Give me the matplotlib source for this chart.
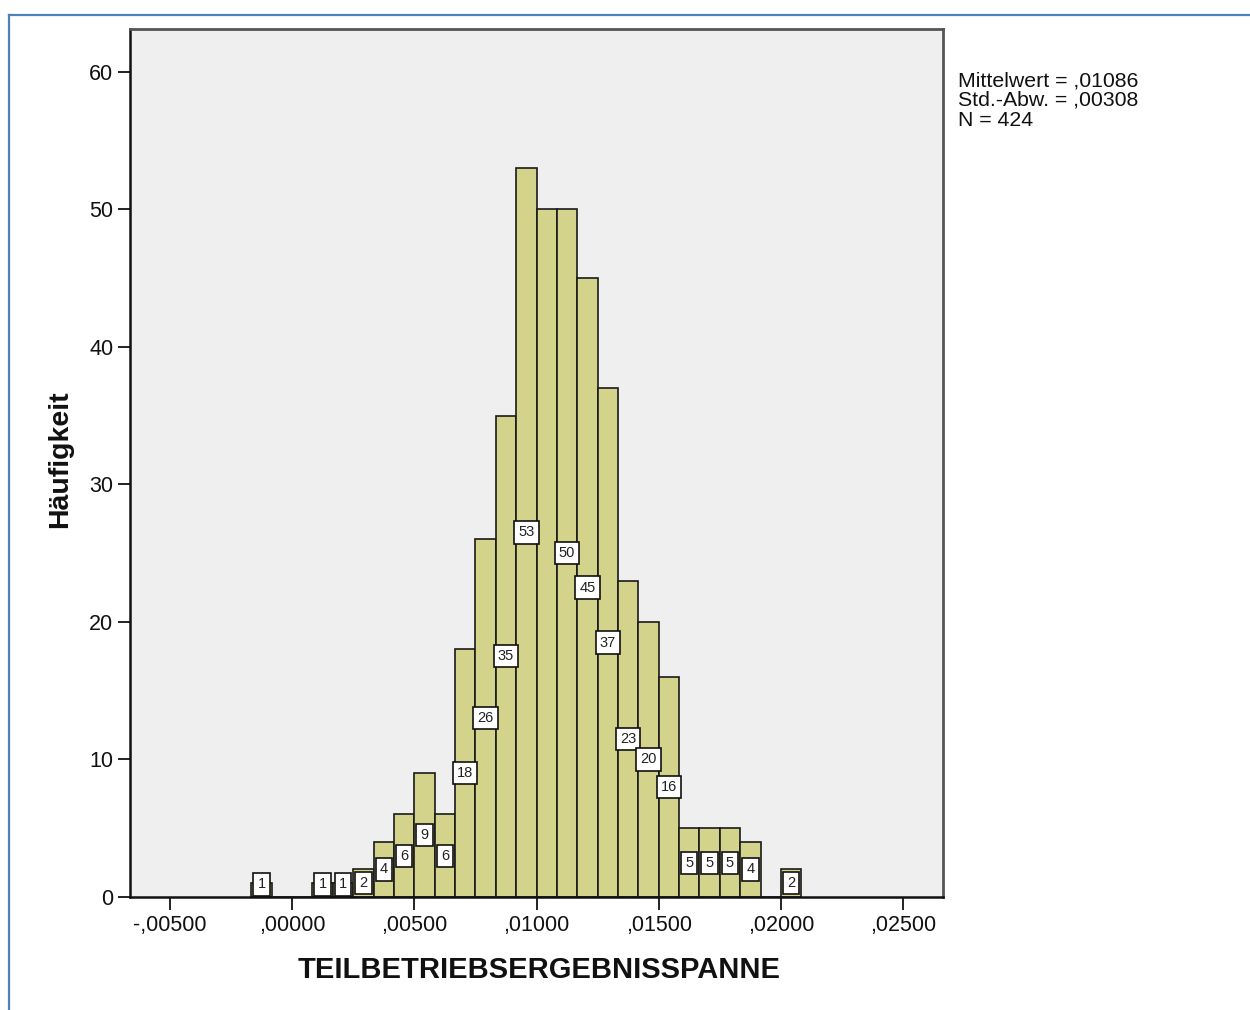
import matplotlib
matplotlib.use("Agg")
import matplotlib.pyplot as plt
from matplotlib.lines import Line2D

plt.rcParams['font.family'] = ['Liberation Sans', 'DejaVu Sans']

# ---- data ----
counts = [1, 0, 0, 1, 1, 2, 4, 6, 9, 6, 18, 26, 35, 53, 50, 50, 45, 37, 23, 20, 16, 5, 5, 5, 4, 0, 2]
bin_width = 0.015 / 18
first_edge = 0.005 - 8 * bin_width
hidden_label_bins = [14]   # label suppressed in the original (overlap)
x_ticks = [-0.005, 0.0, 0.005, 0.010, 0.015, 0.020, 0.025]
x_tick_labels = ["-,00500", ",00000", ",00500", ",01000", ",01500", ",02000", ",02500"]
y_ticks = [0, 10, 20, 30, 40, 50, 60]
stats_lines = ["Mittelwert = ,01086", "Std.-Abw. = ,00308", "N = 424"]
x_title = "TEILBETRIEBSERGEBNISSPANNE"
y_title = "Häufigkeit"

W, H = 1250, 1010
fig = plt.figure(figsize=(W / 100, H / 100), dpi=100)
fig.patch.set_facecolor('white')

# axes placement in pixels
L, R, T, B = 130, 943, 28.5, 897
ax = fig.add_axes([L / W, 1 - B / H, (R - L) / W, (B - T) / H])
ax.set_facecolor('#efefef')

lefts = [first_edge + i * bin_width for i in range(len(counts))]
ax.bar(lefts, counts, width=bin_width, align='edge', color='#d4d38b',
       edgecolor='#1a1a1a', linewidth=1.2, zorder=2)

px_per_unit = 13.755
ax.set_xlim(-0.00663, 0.02663)
ax.set_ylim(0, (B - T) / px_per_unit)

# value labels
half_box = 12.5 / px_per_unit
for i, (x0, c) in enumerate(zip(lefts, counts)):
    if c <= 0 or i in hidden_label_bins:
        continue
    yc = max(c / 2, half_box)
    ax.text(x0 + bin_width / 2, yc, str(c), ha='center', va='center', fontsize=10.5,
            color='#222222', zorder=4,
            bbox=dict(boxstyle='square,pad=0.28', facecolor='white',
                      edgecolor='#111111', linewidth=1.2))

ax.set_xticks(x_ticks)
ax.set_xticklabels(x_tick_labels)
ax.set_yticks(y_ticks)
ax.tick_params(axis='both', direction='out', length=9, width=1.3, labelsize=15.5,
               colors='#111111')
ax.tick_params(axis='x', pad=4)
ax.tick_params(axis='y', pad=3)

for s in ['left', 'bottom']:
    ax.spines[s].set_color('#111111')
    ax.spines[s].set_linewidth(1.8)
for s in ['top', 'right']:
    ax.spines[s].set_color('#555555')
    ax.spines[s].set_linewidth(2.0)

fig.text(539 / W, 1 - 970 / H, x_title, ha='center', va='center', fontsize=21,
         fontweight='bold', color='#111111')
fig.text(60 / W, 1 - 459 / H, y_title, ha='center', va='center', fontsize=20.5,
         fontweight='bold', rotation=90, color='#111111')

for i, line in enumerate(stats_lines):
    fig.text(958 / W, 1 - (71 + i * 20) / H, line, ha='left', va='top', fontsize=15.3,
             color='#111111')

# blue frame
blue = '#4f81bd'
fig.add_artist(Line2D([9 / W, 9 / W], [1 - 15 / H, 0], transform=fig.transFigure,
                      color=blue, linewidth=1.6))
fig.add_artist(Line2D([9 / W, 1], [1 - 15 / H, 1 - 15 / H], transform=fig.transFigure,
                      color=blue, linewidth=1.6))

fig.savefig('out.png', dpi=100, facecolor='white')
